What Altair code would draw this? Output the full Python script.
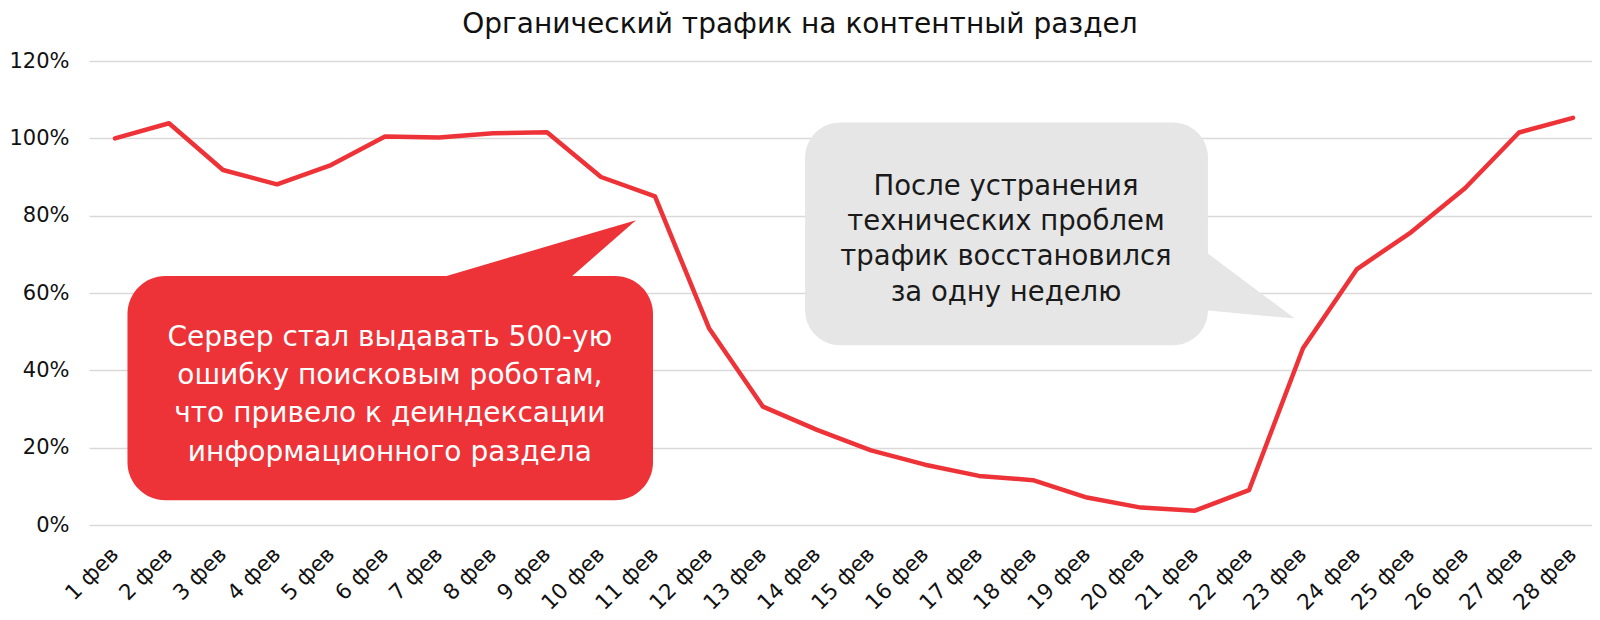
import altair as alt
import pandas as pd

days = ["1 фев", "2 фев", "3 фев", "4 фев", "5 фев", "6 фев", "7 фев",
        "8 фев", "9 фев", "10 фев", "11 фев", "12 фев", "13 фев", "14 фев",
        "15 фев", "16 фев", "17 фев", "18 фев", "19 фев", "20 фев", "21 фев",
        "22 фев", "23 фев", "24 фев", "25 фев", "26 фев", "27 фев", "28 фев"]
traffic = [100.0, 103.9, 91.8, 88.1, 93.1, 100.5, 100.2, 101.3, 101.6, 90.0,
           85.0, 50.9, 30.6, 24.6, 19.3, 15.6, 12.7, 11.6, 7.1, 4.5,
           3.7, 9.0, 45.7, 66.2, 75.7, 87.1, 101.5, 105.3]
y_ticks = [0, 20, 40, 60, 80, 100, 120]

title_text = "Органический трафик на контентный раздел"
red_note = ["Сервер стал выдавать 500-ую", "ошибку поисковым роботам,",
            "что привело к деиндексации", "информационного раздела"]
gray_note = ["После устранения", "технических проблем",
             "трафик восстановился", "за одну неделю"]

RED = "#ee3338"
GRAY = "#e6e6e6"
FONT = "DejaVu Sans"

df = pd.DataFrame({"i": list(range(len(days))), "v": traffic})

x_scale = alt.Scale(domain=[-0.4815, 27.352], nice=False, zero=False)
y_scale = alt.Scale(domain=[0, 120], nice=False, zero=True)

label_expr = "[" + ",".join("'" + d + "'" for d in days) + "][datum.value]"

line = alt.Chart(df).mark_line(
    color=RED, strokeWidth=4.5, strokeCap="round", strokeJoin="round"
).encode(
    x=alt.X("i:Q", scale=x_scale, title=None,
            axis=alt.Axis(values=list(range(len(days))), labelExpr=label_expr,
                          labelAngle=-45, labelAlign="right", labelBaseline="middle",
                          grid=False, domain=False, ticks=False, labelPadding=26,
                          labelFontSize=21.5, labelColor="#111111", labelFont=FONT,
                          labelOverlap=False, labelFlush=False)),
    y=alt.Y("v:Q", scale=y_scale, title=None,
            axis=alt.Axis(values=y_ticks, labelExpr="datum.value + '%'",
                          grid=True, gridColor="#d9d9d9", gridWidth=1.5,
                          domain=False, ticks=False, labelPadding=20,
                          minExtent=81, maxExtent=81, labelFontSize=21,
                          labelColor="#111111", labelFont=FONT)),
)

# annotation geometry (in data units of the chart scales)
red_box = pd.DataFrame({"x": [0.231], "x2": [9.963], "y": [64.4], "y2": [6.38]})
red_tail = pd.DataFrame({"x": [5.796, 8.352, 9.648], "y": [63.0, 73.5, 78.8],
                         "y2": [63.0, 63.0, 78.8]})
gray_box = pd.DataFrame({"x": [12.78], "x2": [20.24], "y": [104.1], "y2": [46.5]})
gray_tail = pd.DataFrame({"x": [20.0, 21.85], "y": [72.7, 53.4], "y2": [55.8, 53.4]})


def text_rows(lines, cx, cy, step):
    n = len(lines)
    return pd.DataFrame({
        "x": [cx] * n,
        "y": [cy + ((n - 1) / 2 - k) * step for k in range(n)],
        "t": lines,
    })


red_text = text_rows(red_note, 5.09, 33.55, 9.93)
gray_text = text_rows(gray_note, 16.5, 73.8, 9.14)


def box(data, color, radius):
    return alt.Chart(data).mark_rect(color=color, cornerRadius=radius).encode(
        x=alt.X("x:Q", scale=x_scale, title=None), x2="x2:Q",
        y=alt.Y("y:Q", scale=y_scale, title=None), y2="y2:Q")


def tail(data, color):
    return alt.Chart(data).mark_area(color=color, opacity=1).encode(
        x=alt.X("x:Q", scale=x_scale, title=None),
        y=alt.Y("y:Q", scale=y_scale, title=None), y2="y2:Q")


def note(data, color, size):
    return alt.Chart(data).mark_text(
        color=color, font=FONT, fontSize=size, align="center", baseline="middle"
    ).encode(
        x=alt.X("x:Q", scale=x_scale, title=None),
        y=alt.Y("y:Q", scale=y_scale, title=None), text="t:N")


chart = alt.layer(
    box(red_box, RED, 38), tail(red_tail, RED),
    box(gray_box, GRAY, 35), tail(gray_tail, GRAY),
    line,
    note(red_text, "#ffffff", 28), note(gray_text, "#1a1a1a", 27.5),
).properties(
    width=1503, height=464,
    padding={"left": 0, "right": 0, "top": 2, "bottom": 0},
    title=alt.TitleParams(title_text, fontSize=28, font=FONT, fontWeight="normal",
                          color="#111111", anchor="middle", frame="bounds", offset=11.5),
).configure_view(stroke=None)

chart.save("out.html", embed_options={"renderer": "svg", "actions": False})
